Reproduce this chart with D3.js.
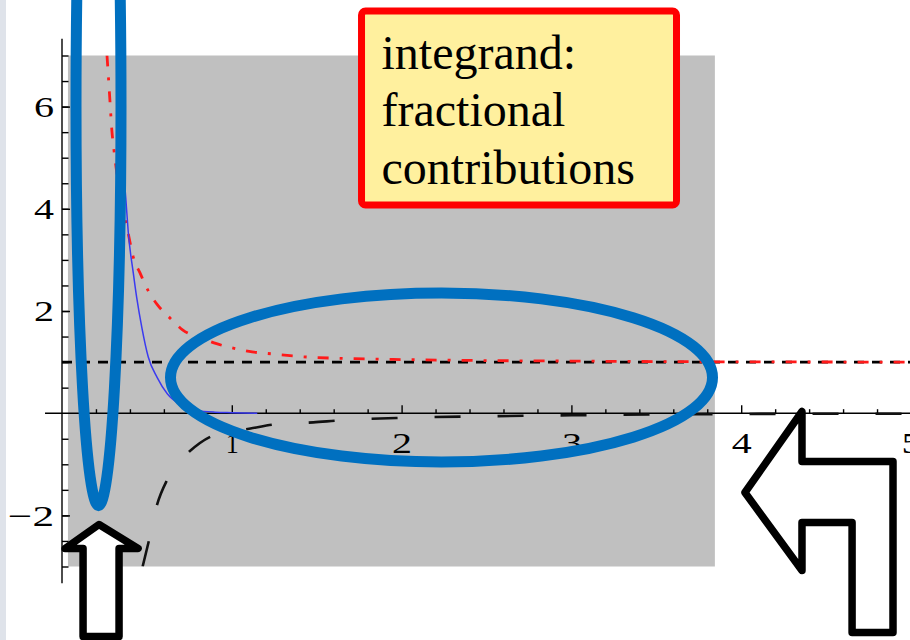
<!DOCTYPE html>
<html lang="en">
<head>
<meta charset="utf-8">
<script src="https://d3js.org/d3.v7.min.js"></script>
<style>
  body { margin: 0; background: #fff; }
  svg { display: block; font-family: "Liberation Serif", "Times New Roman", serif; }
  .axis path.domain { display: none; }
  .axis line { stroke: #000; stroke-width: 1.4px; }
</style>
</head>
<body>
<svg id="chart" width="910" height="640"></svg>
<script>
// ---- data ----
// red dash-dot curve
const redX = [0.265, 0.28, 0.294, 0.306, 0.318, 0.353, 0.39, 0.42, 0.46, 0.51, 0.56, 0.64, 0.71, 0.83, 0.91, 1.0, 1.12, 1.24, 1.44, 1.68, 2.0, 2.5, 3.0, 3.5, 4.0, 5.0];
const redY = [7.0, 6.24, 5.52, 5.15, 4.82, 4.1, 3.52, 3.05, 2.74, 2.38, 2.13, 1.85, 1.63, 1.46, 1.36, 1.28, 1.20, 1.16, 1.10, 1.07, 1.05, 1.03, 1.02, 1.01, 1.005, 1.0];
// thin blue curve
const blueX = [0.335, 0.35, 0.365, 0.378, 0.39, 0.42, 0.44, 0.47, 0.508, 0.56, 0.62, 0.69, 0.79, 0.9, 1.0, 1.15];
const blueY = [7.0, 5.7, 4.7, 4.1, 3.55, 2.74, 2.26, 1.68, 1.1, 0.70, 0.38, 0.18, 0.06, 0.02, 0.01, 0.0];
// black long-dash curve
const blackX = [0.475, 0.51, 0.56, 0.62, 0.69, 0.75, 0.88, 1.0, 1.11, 1.25, 1.48, 1.64, 2.0, 2.5, 3.0, 3.5, 4.0, 5.0];
const blackY = [-3.0, -2.52, -1.79, -1.3, -0.95, -0.75, -0.45, -0.36, -0.3, -0.22, -0.18, -0.14, -0.09, -0.06, -0.04, -0.025, -0.015, -0.01];
// horizontal reference level
const refLevel = 1;

// axes
const xDomain = [0, 5];
const yDomain = [-3, 7];
const xLabels = [1, 2, 3, 4, 5];
const yLabels = [-2, 2, 4, 6];
const xMinor = d3.range(0.2, 5.01, 0.2).map(v => +v.toFixed(1));
const yMinor = d3.range(-3, 7.01, 0.5);

// grey shaded block behind the plot
const shadeX = [0.035, 3.845];
const shadeY = [-3, 7];

// annotations (in data units)
const boxX = [1.764, 3.619];
const boxY = [7.871, 4.074];
const boxLines = ["integrand:", "fractional", "contributions"];
const ellipses = [
  { cx: 0.215, cy: 6.02, rx: 0.1325, ry: 7.83 },
  { cx: 2.235, cy: 0.70, rx: 1.596, ry: 1.654 }
];
const upArrow = [[0.218, -2.178], [0.448, -2.648], [0.336, -2.648], [0.336, -4.37],
                 [0.124, -4.37], [0.124, -2.648], [0.018, -2.648]];
const bentArrow = [[4.022, -1.552], [4.358, 0.033], [4.358, -0.945], [4.894, -0.945],
                   [4.894, -4.292], [4.653, -4.292], [4.653, -2.139], [4.358, -2.139], [4.358, -3.078]];

// ---- drawing ----
const svg = d3.select("#chart");

const x = d3.scaleLinear().domain(xDomain).range([62, 911]);
const y = d3.scaleLinear().domain(yDomain).range([566.5, 55.5]);

// slide edge strip
svg.append("rect").attr("x", 0).attr("y", 0).attr("width", 6).attr("height", 640)
   .attr("fill", "#dfe3ea");

// grey block
svg.append("rect")
   .attr("x", x(shadeX[0])).attr("y", y(shadeY[1]))
   .attr("width", x(shadeX[1]) - x(shadeX[0]))
   .attr("height", y(shadeY[0]) - y(shadeY[1]))
   .attr("fill", "#c0c0c0");

// axis lines
svg.append("line").attr("x1", x(-0.1)).attr("x2", 910)
   .attr("y1", y(0)).attr("y2", y(0)).attr("stroke", "#000").attr("stroke-width", 1.5);
svg.append("line").attr("x1", x(0)).attr("x2", x(0))
   .attr("y1", y(7.33)).attr("y2", y(-3.33)).attr("stroke", "#000").attr("stroke-width", 1.4);

// the tick digits in the picture are wider than the serif font, stretch them a bit
const digitWidth = d => d === 1 ? 13 : (d < 0 ? 46 : 20);

// x ticks (pointing up) and labels
svg.append("g").attr("class", "axis").attr("transform", `translate(0,${y(0)})`)
   .call(d3.axisBottom(x).tickValues(xMinor.filter(v => !Number.isInteger(v))).tickSize(-4).tickFormat(""));
const xAxis = svg.append("g").attr("class", "axis").attr("transform", `translate(0,${y(0)})`)
   .call(d3.axisBottom(x).tickValues(xLabels).tickSizeInner(-8).tickSizeOuter(0).tickPadding(19).tickFormat(d3.format("d")))
   .attr("font-size", 30).attr("font-family", "Liberation Serif, serif");
xAxis.selectAll("text").attr("textLength", digitWidth).attr("lengthAdjust", "spacingAndGlyphs");

// y ticks (pointing right) and labels
svg.append("g").attr("class", "axis").attr("transform", `translate(${x(0)},0)`)
   .call(d3.axisLeft(y).tickValues(yMinor.filter(v => v !== 0)).tickSize(-6.5).tickFormat(""));
const yAxis = svg.append("g").attr("class", "axis").attr("transform", `translate(${x(0)},0)`)
   .call(d3.axisLeft(y).tickValues(yLabels).tickSizeInner(-8).tickSizeOuter(0).tickPadding(8)
         .tickFormat(d => d < 0 ? "\u2212" + Math.abs(d) : d))
   .attr("font-size", 30).attr("font-family", "Liberation Serif, serif");
yAxis.selectAll("text").attr("textLength", digitWidth).attr("lengthAdjust", "spacingAndGlyphs");

// clip curves to the plotted range
svg.append("clipPath").attr("id", "plotclip").append("rect")
   .attr("x", x(0)).attr("y", y(7)).attr("width", x(5) - x(0) + 2).attr("height", y(-3) - y(7));
const plot = svg.append("g").attr("clip-path", "url(#plotclip)");

const line = d3.line().x(d => x(d[0])).y(d => y(d[1])).curve(d3.curveMonotoneX);

// reference level y = 1
plot.append("line").attr("x1", x(0)).attr("x2", x(5))
    .attr("y1", y(refLevel)).attr("y2", y(refLevel))
    .attr("stroke", "#000").attr("stroke-width", 2.6).attr("stroke-dasharray", "10 8");

plot.append("path").datum(d3.zip(blackX, blackY))
    .attr("d", line).attr("fill", "none").attr("stroke", "#111")
    .attr("stroke-width", 2.6).attr("stroke-dasharray", "26 37");

plot.append("path").datum(d3.zip(redX, redY))
    .attr("d", line).attr("fill", "none").attr("stroke", "#ff1a1a")
    .attr("stroke-width", 2.8).attr("stroke-dasharray", "11 11 3 11");

plot.append("path").datum(d3.zip(blueX, blueY))
    .attr("d", line).attr("fill", "none").attr("stroke", "#3a3af0")
    .attr("stroke-width", 1.5);

// text box
svg.append("rect")
   .attr("x", x(boxX[0])).attr("y", y(boxY[0]))
   .attr("width", x(boxX[1]) - x(boxX[0])).attr("height", y(boxY[1]) - y(boxY[0]))
   .attr("rx", 4).attr("fill", "#fff09e").attr("stroke", "#ff0000").attr("stroke-width", 7);
svg.append("g").selectAll("text").data(boxLines).join("text")
   .attr("x", x(boxX[0]) + 20)
   .attr("y", (d, i) => y(boxY[0]) + 58 + i * 57.5)
   .attr("font-size", 48).attr("fill", "#000")
   .text(d => d);

// blue ellipses
svg.append("g").selectAll("ellipse").data(ellipses).join("ellipse")
   .attr("cx", d => x(d.cx)).attr("cy", d => y(d.cy))
   .attr("rx", d => x(d.cx + d.rx) - x(d.cx)).attr("ry", d => y(d.cy - d.ry) - y(d.cy))
   .attr("fill", "none").attr("stroke", "#0070c0").attr("stroke-width", 11);

// block arrows
const poly = d3.line().x(d => x(d[0])).y(d => y(d[1]));
svg.append("g").selectAll("path").data([upArrow, bentArrow]).join("path")
   .attr("d", d => poly(d) + "Z")
   .attr("fill", "#fff").attr("stroke", "#000").attr("stroke-width", 7.5)
   .attr("stroke-linejoin", "round");
</script>
</body>
</html>
